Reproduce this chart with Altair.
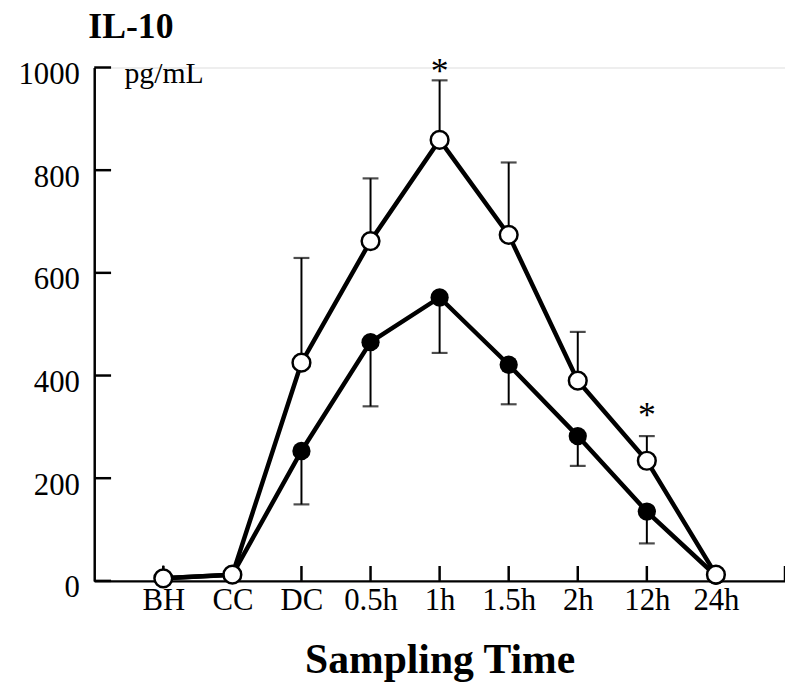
import altair as alt
import pandas as pd

categories = ["BH", "CC", "DC", "0.5h", "1h", "1.5h", "2h", "12h", "24h"]
open_mean = [5, 12, 425, 662, 859, 674, 390, 234, 12]
open_err_top = [30, 22, 629, 784, 975, 815, 485, 282, 22]
filled_mean = [5, 12, 253, 465, 552, 421, 282, 135, 10]
filled_err_bottom = [5, 12, 149, 340, 444, 344, 224, 73, 10]
sig_categories = ["1h", "12h"]
sig_y = [1004, 334]
y_ticks = [0, 200, 400, 600, 800, 1000]
x_ticks = list(range(1, len(categories) + 2))

W, H = 697, 518
FONT = "Liberation Serif"
INK = "#000"

pos = {c: i + 1 for i, c in enumerate(categories)}
rows = []
for c, m, e in zip(categories, open_mean, open_err_top):
    rows.append({"cat": c, "x": pos[c], "y": m, "err": e, "series": "open"})
for c, m, e in zip(categories, filled_mean, filled_err_bottom):
    rows.append({"cat": c, "x": pos[c], "y": m, "err": e, "series": "filled"})
df = pd.DataFrame(rows)
df_open = df[df.series == "open"]
df_filled = df[df.series == "filled"]
caps_open = df_open[df_open.err - df_open.y > 40].assign(y=lambda d: d.err)
caps_filled = df_filled[df_filled.y - df_filled.err > 20].assign(y=lambda d: d.err)
sig = pd.DataFrame({"x": [pos[c] for c in sig_categories], "y": sig_y})
xt = pd.DataFrame({"x": x_ticks})
yt = pd.DataFrame({"y": y_ticks})

xscale = alt.Scale(domain=[0, 10], nice=False, zero=False)
yscale = alt.Scale(domain=[0, 1000], nice=False)

label_arr = "[" + ",".join("'" + c + "'" for c in categories) + ",'']"

xaxis = alt.Axis(
    values=x_ticks, labelExpr=label_arr + "[datum.value-1]", ticks=False,
    labelPadding=5, labelFont=FONT, labelFontSize=31, labelColor=INK,
    domainWidth=2.5, domainColor=INK, grid=False,
    title="Sampling Time", titleFont=FONT, titleFontSize=42, titleFontWeight="bold",
    titlePadding=24, titleColor=INK, labelFlush=False, labelOverlap=False,
)
yaxis = alt.Axis(
    values=y_ticks, format="d", ticks=False, labelPadding=15, labelFont=FONT, labelFontSize=31,
    labelColor=INK, labelBaseline="middle", labelOffset=7,
    domainWidth=2.5, domainColor=INK, grid=False,
    title="pg/mL", titleAngle=0, titleX=30, titleY=6, titleAlign="left",
    titleBaseline="middle", titleFont=FONT, titleFontSize=30, titleFontWeight="normal",
    titleColor=INK,
)

X = alt.X("x:Q", scale=xscale, axis=xaxis)
Y = alt.Y("y:Q", scale=yscale, axis=yaxis)

xtick_layer = alt.Chart(xt).mark_rule(color=INK, strokeWidth=2.5).encode(
    x=X, y=alt.value(H), y2=alt.value(H - 15))
ytick_layer = alt.Chart(yt).mark_rule(color=INK, strokeWidth=2.5).encode(
    y=Y, x=alt.value(0), x2=alt.value(17))

err_rule_open = alt.Chart(df_open).mark_rule(color=INK, strokeWidth=2).encode(
    x=X, y=Y, y2="err:Q")
err_cap_open = alt.Chart(caps_open).mark_tick(
    color=INK, orient="horizontal", size=16, thickness=2.2).encode(x=X, y=Y)
err_rule_filled = alt.Chart(df_filled).mark_rule(color=INK, strokeWidth=2).encode(
    x=X, y=Y, y2="err:Q")
err_cap_filled = alt.Chart(caps_filled).mark_tick(
    color=INK, orient="horizontal", size=16, thickness=2.2).encode(x=X, y=Y)

lines = alt.Chart(df).mark_line(color=INK, strokeWidth=4.5).encode(
    x=X, y=Y, detail="series:N")
pts_filled = alt.Chart(df_filled).mark_point(
    shape="circle", filled=True, color=INK, size=340, opacity=1).encode(x=X, y=Y)
pts_open = alt.Chart(df_open).mark_point(
    shape="circle", filled=True, fill="white", stroke=INK, strokeWidth=2.5,
    size=320, opacity=1).encode(x=X, y=Y)
stars = alt.Chart(sig).mark_text(
    text="*", font=FONT, fontSize=36, color=INK, baseline="middle", dy=7).encode(x=X, y=Y)

chart = alt.layer(
    xtick_layer, ytick_layer, err_rule_open, err_cap_open, err_rule_filled, err_cap_filled,
    lines, pts_filled, pts_open, stars,
).properties(
    width=W, height=H,
    title=alt.Title("IL-10", anchor="start", frame="group", font=FONT, fontSize=36,
                    fontWeight="bold", color=INK, dx=-6, dy=5, offset=-14, baseline="alphabetic"),
    autosize=alt.AutoSizeParams(type="none"),
    padding={"left": 87, "top": 57, "right": 0, "bottom": 100},
).configure_view(stroke="transparent", strokeWidth=0).configure(background="white")

chart.save("out.html", embed_options={"renderer": "svg", "actions": False})
